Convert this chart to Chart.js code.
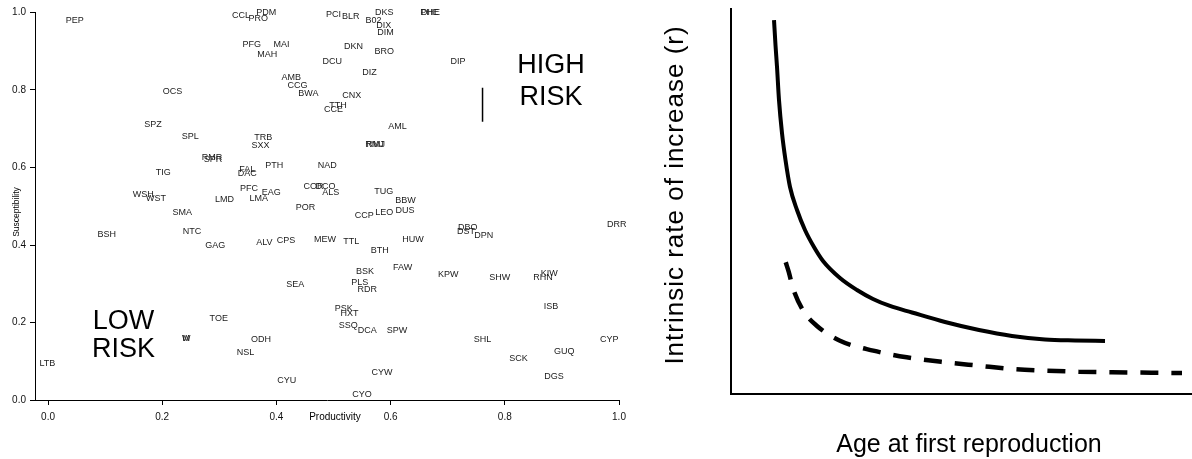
<!DOCTYPE html>
<html>
<head>
<meta charset="utf-8">
<script src="https://cdn.jsdelivr.net/npm/chart.js@4.4.1/dist/chart.umd.min.js"></script>
<style>
  html, body { margin: 0; padding: 0; background: #fff; }
  #wrap { position: relative; width: 1192px; height: 459px; }
  #left { position: absolute; left: 0; top: 0; }
  #right { position: absolute; left: 640px; top: 0; }
</style>
</head>
<body>
<div id="wrap">
  <canvas id="left" width="640" height="459"></canvas>
  <canvas id="right" width="552" height="459"></canvas>
</div>
<script>
// species codes
const codes = ['PEP','CCL','PDM','PRO','PCI','BLR','DKS','B02','DIX','DIM','PHE','DHE',
  'PFG','MAI','MAH','DKN','BRO','DCU','DIP','DIZ','AMB','CCG','BWA','OCS','CNX','TTH','CCE',
  'SPZ','AML','SPL','TRB','SXX','RMJ','RMJ','RMR','SPR','PTH','NAD','FAL','DAC','TIG','PFC',
  'COR','DCO','ALS','TUG','EAG','WSH','WST','LMA','LMD','BBW','POR','DUS','SMA','LEO','CCP',
  'DRR','DBO','DST','DPN','NTC','BSH','MEW','HUW','CPS','TTL','ALV','GAG','BTH','FAW','BSK',
  'KIW','KPW','SHW','RHN','PLS','SEA','RDR','ISB','PSK','HXT','TOE','SSQ','DCA','SPW','M','W',
  'ODH','SHL','CYP','GUQ','NSL','SCK','LTB','CYW','DGS','CYU','CYO'];
const productivity = [0.047,0.338,0.382,0.368,0.500,0.530,0.589,0.570,0.588,0.591,0.668,0.670,
  0.357,0.409,0.384,0.535,0.589,0.498,0.718,0.563,0.426,0.437,0.456,0.218,0.532,0.508,0.500,
  0.184,0.612,0.249,0.377,0.372,0.572,0.574,0.287,0.289,0.396,0.489,0.349,0.349,0.202,0.352,
  0.465,0.486,0.495,0.588,0.391,0.167,0.189,0.369,0.309,0.626,0.451,0.625,0.235,0.589,0.554,
  0.996,0.735,0.732,0.763,0.252,0.103,0.485,0.639,0.417,0.531,0.379,0.293,0.581,0.621,0.555,
  0.878,0.701,0.791,0.867,0.546,0.433,0.559,0.881,0.518,0.528,0.299,0.526,0.559,0.611,0.242,0.242,
  0.373,0.761,0.983,0.904,0.346,0.824,-0.001,0.585,0.886,0.418,0.550];
const susceptibility = [0.979,0.992,1.001,0.985,0.995,0.990,1.001,0.979,0.966,0.949,1.001,1.001,
  0.918,0.917,0.891,0.911,0.899,0.874,0.874,0.844,0.832,0.812,0.792,0.795,0.786,0.760,0.750,
  0.711,0.706,0.679,0.677,0.657,0.659,0.659,0.627,0.620,0.606,0.604,0.595,0.584,0.588,0.546,
  0.550,0.552,0.536,0.537,0.535,0.531,0.521,0.521,0.517,0.514,0.496,0.490,0.483,0.483,0.475,
  0.454,0.445,0.434,0.425,0.434,0.427,0.414,0.414,0.411,0.408,0.406,0.398,0.385,0.342,0.331,
  0.327,0.325,0.315,0.315,0.302,0.299,0.284,0.242,0.235,0.222,0.209,0.191,0.179,0.179,0.159,0.159,
  0.157,0.156,0.156,0.124,0.123,0.107,0.093,0.070,0.060,0.050,0.013];
const xTicks = [0, 0.2, 0.4, 0.6, 0.8, 1.0];
const yTicks = [0, 0.2, 0.4, 0.6, 0.8, 1.0];

// risk marker and zone texts
const riskBarX = [0.761, 0.761];
const riskBarY = [0.718, 0.806];
const zoneText = ['HIGH', 'RISK', 'LOW', 'RISK'];
const zoneX = [0.881, 0.881, 0.132, 0.132];
const zoneY = [0.863, 0.781, 0.202, 0.129];

// right panel curves (arbitrary units)
const solidX = [0.933, 0.965, 0.998, 1.041, 1.106, 1.182, 1.280, 1.432, 1.605, 1.800, 1.996,
  2.364, 2.733, 3.080, 3.449, 3.926, 4.642, 5.380, 6.095, 6.811, 7.462, 8.113];
const solidY = [9.714, 9.065, 8.494, 7.636, 6.779, 6.078, 5.377, 4.779, 4.260, 3.818, 3.455,
  3.013, 2.701, 2.468, 2.286, 2.117, 1.870, 1.662, 1.507, 1.416, 1.390, 1.377];
const dashedX = [1.187, 1.251, 1.351, 1.568, 1.859, 2.364, 3.087, 3.811, 4.649, 5.373, 6.095,
  6.818, 7.542, 8.265, 9.783];
const dashedY = [3.421, 3.177, 2.727, 2.164, 1.774, 1.384, 1.125, 0.953, 0.823, 0.735, 0.649,
  0.605, 0.579, 0.564, 0.545];

const FONT = "'Liberation Sans', Arial, Helvetica, sans-serif";

const labelPlugin = {
  id: 'codeLabels',
  afterDatasetsDraw(chart) {
    const ctx = chart.ctx;
    const xs = chart.scales.x, ys = chart.scales.y;
    ctx.save();
    ctx.textAlign = 'center';
    ctx.textBaseline = 'middle';
    ctx.fillStyle = '#1a1a1a';
    ctx.font = '9px ' + FONT;
    codes.forEach((c, i) => {
      ctx.fillText(c, xs.getPixelForValue(productivity[i]), ys.getPixelForValue(susceptibility[i]));
    });
    ctx.fillStyle = '#000';
    ctx.font = '27px ' + FONT;
    zoneText.forEach((t, i) => {
      ctx.fillText(t, xs.getPixelForValue(zoneX[i]), ys.getPixelForValue(zoneY[i]));
    });
    // axis titles
    ctx.font = '10px ' + FONT;
    ctx.fillText('Productivity', 335, 417);
    ctx.translate(17, 212);
    ctx.rotate(-Math.PI / 2);
    ctx.font = '8.5px ' + FONT;
    ctx.fillText('Susceptibility', 0, 0);
    ctx.restore();
  }
};

new Chart(document.getElementById('left'), {
  type: 'scatter',
  data: {
    datasets: [
      {
        data: codes.map((c, i) => ({ x: productivity[i], y: susceptibility[i] })),
        pointRadius: 0
      },
      {
        data: riskBarX.map((x, i) => ({ x: x, y: riskBarY[i] })),
        showLine: true,
        borderColor: '#000',
        borderWidth: 1.5,
        pointRadius: 0
      }
    ]
  },
  options: {
    responsive: false,
    animation: false,
    layout: { padding: { top: 12.5, right: 21, left: 0, bottom: 0 } },
    plugins: { legend: { display: false }, tooltip: { enabled: false } },
    scales: {
      x: {
        type: 'linear',
        min: -0.0228,
        max: 1.0,
        afterBuildTicks: s => { s.ticks = xTicks.map(v => ({ value: v })); },
        afterFit: s => { s.height = 59; },
        grid: { drawOnChartArea: false, tickLength: 5, color: '#000' },
        border: { color: '#000' },
        ticks: { font: { size: 10, family: FONT }, color: '#111', padding: 6, maxRotation: 0,
          autoSkip: false, callback: v => v.toFixed(1) }
      },
      y: {
        type: 'linear',
        min: 0,
        max: 1,
        afterBuildTicks: s => { s.ticks = yTicks.map(v => ({ value: v })); },
        afterFit: s => { s.width = 35; },
        grid: { drawOnChartArea: false, tickLength: 5, color: '#000' },
        border: { color: '#000' },
        ticks: { font: { size: 10, family: FONT }, color: '#111', padding: 4,
          autoSkip: false, callback: v => v.toFixed(1) }
      }
    }
  },
  plugins: [labelPlugin]
});

const titlePlugin = {
  id: 'rightTitles',
  afterDraw(chart) {
    const ctx = chart.ctx;
    ctx.save();
    ctx.fillStyle = '#000';
    ctx.textAlign = 'center';
    ctx.textBaseline = 'alphabetic';
    ctx.font = '25px ' + FONT;
    ctx.fillText('Age at first reproduction', 969 - 640, 452);
    ctx.translate(683 - 640, 195);
    ctx.rotate(-Math.PI / 2);
    ctx.font = '26px ' + FONT;
    ctx.letterSpacing = '1px';
    ctx.fillText('Intrinsic rate of increase (r)', 0, 0);
    ctx.restore();
  }
};

new Chart(document.getElementById('right'), {
  type: 'scatter',
  data: {
    datasets: [
      {
        data: solidX.map((x, i) => ({ x: x, y: solidY[i] })),
        showLine: true,
        borderColor: '#000',
        borderWidth: 4,
        pointRadius: 0,
        cubicInterpolationMode: 'monotone'
      },
      {
        data: dashedX.map((x, i) => ({ x: x, y: dashedY[i] })),
        showLine: true,
        borderColor: '#000',
        borderWidth: 4.5,
        borderDash: [18, 13],
        pointRadius: 0,
        cubicInterpolationMode: 'monotone'
      }
    ]
  },
  options: {
    responsive: false,
    animation: false,
    layout: { padding: { left: 91, top: 9, right: 0, bottom: 65 } },
    plugins: { legend: { display: false }, tooltip: { enabled: false } },
    scales: {
      x: {
        type: 'linear', min: 0, max: 10,
        afterFit: s => { s.height = 0; },
        ticks: { display: false },
        grid: { display: false, drawTicks: false },
        border: { color: '#000', width: 2 }
      },
      y: {
        type: 'linear', min: 0, max: 10,
        afterFit: s => { s.width = 0; },
        ticks: { display: false },
        grid: { display: false, drawTicks: false },
        border: { color: '#000', width: 2 }
      }
    }
  },
  plugins: [titlePlugin]
});
</script>
</body>
</html>
